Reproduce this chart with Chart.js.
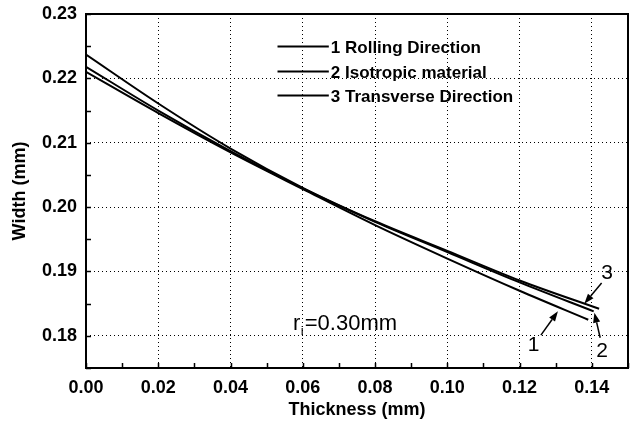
<!DOCTYPE html>
<html>
<head>
<meta charset="utf-8">
<script src="https://cdn.jsdelivr.net/npm/chart.js@4/dist/chart.umd.min.js"></script>
<style>
  html, body { margin: 0; padding: 0; background: #fff; }
  #wrap { width: 632px; height: 427px; position: relative; }
</style>
</head>
<body>
<div id="wrap"><canvas id="chart" width="632" height="427"></canvas></div>
<script>
// Width of the part versus thickness for three material orientations
const seriesLabels = ['1 Rolling Direction', '2 Isotropic material', '3 Transverse Direction'];

const thicknessRolling    = [0, 0.02, 0.04, 0.06, 0.08, 0.10, 0.12, 0.139];
const widthRolling        = [0.2210, 0.2146, 0.2085, 0.2028, 0.1972, 0.1920, 0.1870, 0.1825];

const thicknessIsotropic  = [0, 0.02, 0.04, 0.06, 0.08, 0.10, 0.12, 0.1405];
const widthIsotropic      = [0.2218, 0.2150, 0.2087, 0.2029, 0.1977, 0.1930, 0.1883, 0.1838];

const thicknessTransverse = [0, 0.02, 0.04, 0.06, 0.08, 0.10, 0.12, 0.142];
const widthTransverse     = [0.2237, 0.2161, 0.2091, 0.2030, 0.1978, 0.1932, 0.1886, 0.1842];

const xTicks = [0, 0.02, 0.04, 0.06, 0.08, 0.10, 0.12, 0.14];
const yTicks = [0.18, 0.19, 0.20, 0.21, 0.22, 0.23];
const xRange = [0, 0.15];
const yRange = [0.175, 0.23];

const radiusLabel = 'r';
const radiusSub = 'i';
const radiusValue = '=0.30mm';

function pts(xs, ys) { return xs.map((v, i) => ({ x: v, y: ys[i] })); }

const FONT = '"Liberation Sans", Arial, sans-serif';

// Curve callouts, placed in data units
const callouts = [
  { text: '1', at: [0.1239, 0.1785], from: [0.1259, 0.1801], to: [0.1306, 0.1838] },
  { text: '2', at: [0.1428, 0.1776], from: [0.1423, 0.1797], to: [0.1407, 0.1836] },
  { text: '3', at: [0.1442, 0.1898], from: [0.1427, 0.1882], to: [0.1379, 0.1850] }
];
const radiusAt = [0.0573, 0.1809];
// legend rows (data units)
const legendRowsY = [0.22509, 0.22116, 0.21744];
const legendLineX = [0.0530, 0.0672];

const frameAndTicks = {
  id: 'frameAndTicks',
  afterDatasetsDraw(chart) {
    const { ctx, chartArea: a, scales: { x, y } } = chart;
    ctx.save();
    ctx.strokeStyle = '#000';
    ctx.lineWidth = 1.5;
    ctx.beginPath();
    for (let i = 0; i <= 15; i++) {
      const px = Math.round(x.getPixelForValue(i * 0.01)) + 0.5;
      ctx.moveTo(px, a.bottom);
      ctx.lineTo(px, a.bottom - 5);
    }
    for (let i = 0; i <= 11; i++) {
      const py = Math.round(y.getPixelForValue(0.175 + i * 0.005)) + 0.5;
      ctx.moveTo(a.left, py);
      ctx.lineTo(a.left + 5, py);
    }
    ctx.stroke();
    ctx.lineWidth = 2;
    ctx.strokeRect(Math.round(a.left), Math.round(a.top), Math.round(a.width), Math.round(a.height));
    ctx.restore();
  }
};

function arrow(ctx, x1, y1, x2, y2) {
  const ang = Math.atan2(y2 - y1, x2 - x1);
  const len = 10, half = 3.6;
  const bx = x2 - len * Math.cos(ang), by = y2 - len * Math.sin(ang);
  ctx.beginPath();
  ctx.moveTo(x1, y1);
  ctx.lineTo(bx, by);
  ctx.stroke();
  ctx.beginPath();
  ctx.moveTo(x2, y2);
  ctx.lineTo(bx + half * Math.sin(ang), by - half * Math.cos(ang));
  ctx.lineTo(bx - half * Math.sin(ang), by + half * Math.cos(ang));
  ctx.closePath();
  ctx.fill();
}

const annotations = {
  id: 'annotations',
  afterDraw(chart) {
    const { ctx, scales: { x, y } } = chart;
    ctx.save();
    ctx.fillStyle = '#000';
    ctx.strokeStyle = '#000';

    // legend box inside the plot
    const lx0 = x.getPixelForValue(legendLineX[0]), lx1 = x.getPixelForValue(legendLineX[1]);
    ctx.font = 'bold 17px ' + FONT;
    ctx.textBaseline = 'middle';
    ctx.textAlign = 'left';
    chart.data.datasets.forEach((ds, i) => {
      const py = Math.round(y.getPixelForValue(legendRowsY[i])) + 0.5;
      ctx.lineWidth = 2;
      ctx.beginPath();
      ctx.moveTo(lx0, py);
      ctx.lineTo(lx1, py);
      ctx.stroke();
      ctx.fillText(ds.label, lx1 + 2, py + 1.5);
    });

    // inner radius note
    ctx.textBaseline = 'alphabetic';
    const rx = x.getPixelForValue(radiusAt[0]);
    const ry = y.getPixelForValue(radiusAt[1]);
    ctx.font = '22px ' + FONT;
    ctx.fillText(radiusLabel, rx, ry);
    const rw = ctx.measureText(radiusLabel).width;
    ctx.font = '13px ' + FONT;
    ctx.fillText(radiusSub, rx + rw + 0.5, ry + 5);
    const sw = ctx.measureText(radiusSub).width;
    ctx.font = '22px ' + FONT;
    ctx.fillText(radiusValue, rx + rw + sw + 1.5, ry);

    // numbered callouts with arrows
    ctx.font = '21px ' + FONT;
    ctx.textAlign = 'center';
    ctx.textBaseline = 'middle';
    ctx.lineWidth = 1.5;
    callouts.forEach(c => {
      ctx.fillText(c.text, x.getPixelForValue(c.at[0]), y.getPixelForValue(c.at[1]));
      arrow(ctx,
        x.getPixelForValue(c.from[0]), y.getPixelForValue(c.from[1]),
        x.getPixelForValue(c.to[0]), y.getPixelForValue(c.to[1]));
    });
    ctx.restore();
  }
};

const lineStyle = {
  borderColor: '#000',
  borderWidth: 2,
  pointRadius: 0,
  fill: false,
  cubicInterpolationMode: 'monotone'
};

new Chart(document.getElementById('chart'), {
  type: 'line',
  data: {
    datasets: [
      Object.assign({ label: seriesLabels[0], data: pts(thicknessRolling, widthRolling) }, lineStyle),
      Object.assign({ label: seriesLabels[1], data: pts(thicknessIsotropic, widthIsotropic) }, lineStyle),
      Object.assign({ label: seriesLabels[2], data: pts(thicknessTransverse, widthTransverse) }, lineStyle)
    ]
  },
  options: {
    responsive: false,
    animation: false,
    layout: { padding: { top: 14, right: 4, left: 0, bottom: 0 } },
    plugins: { legend: { display: false }, tooltip: { enabled: false } },
    scales: {
      x: {
        type: 'linear',
        min: xRange[0],
        max: xRange[1],
        afterBuildTicks: s => { s.ticks = xTicks.map(v => ({ value: v })); },
        afterFit: s => { s.height = 59; s.paddingLeft = 0; s.paddingRight = 0; },
        grid: { color: '#000', lineWidth: 1, drawTicks: false },
        border: { display: false, dash: [1, 3] },
        ticks: {
          color: '#000',
          padding: 9,
          maxRotation: 0,
          font: { family: FONT, size: 18, weight: 'bold' },
          callback: v => v.toFixed(2)
        },
        title: {
          display: true,
          text: 'Thickness (mm)',
          color: '#000',
          font: { family: FONT, size: 18, weight: 'bold' },
          padding: { top: 6, bottom: 6 }
        }
      },
      y: {
        type: 'linear',
        min: yRange[0],
        max: yRange[1],
        afterBuildTicks: s => { s.ticks = yTicks.map(v => ({ value: v })); },
        afterFit: s => { s.width = 86; s.paddingTop = 0; s.paddingBottom = 0; },
        grid: { color: '#000', lineWidth: 1, drawTicks: false },
        border: { display: false, dash: [1, 3] },
        ticks: {
          color: '#000',
          padding: 9,
          font: { family: FONT, size: 18, weight: 'bold' },
          callback: v => v.toFixed(2)
        },
        title: {
          display: true,
          text: 'Width (mm)',
          color: '#000',
          font: { family: FONT, size: 18, weight: 'bold' },
          padding: { top: 9, bottom: 9 }
        }
      }
    }
  },
  plugins: [frameAndTicks, annotations]
});
</script>
</body>
</html>
